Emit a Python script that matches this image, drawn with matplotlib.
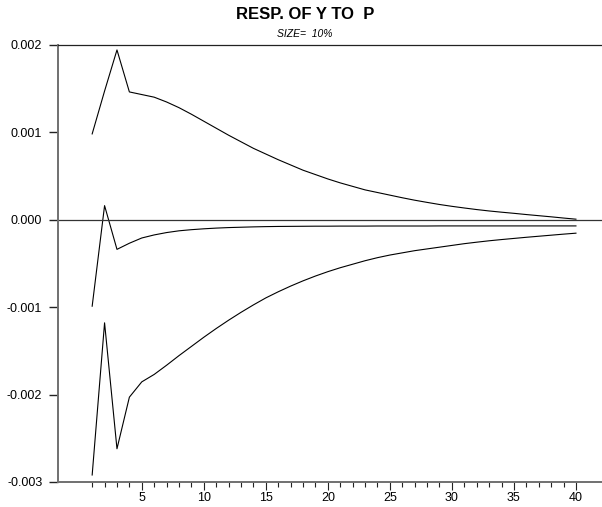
import matplotlib
matplotlib.use("Agg")
import matplotlib.pyplot as plt
from matplotlib.ticker import FixedLocator

plt.rcParams['font.family'] = ['Liberation Sans', 'DejaVu Sans']

steps = list(range(1, 41))
upper = [0.98, 1.47, 1.94, 1.46, 1.43, 1.40, 1.345, 1.28, 1.205, 1.125,
         1.045, 0.965, 0.89, 0.815, 0.75, 0.685, 0.625, 0.565, 0.515, 0.465,
         0.42, 0.38, 0.34, 0.31, 0.28, 0.25, 0.222, 0.197, 0.173, 0.152,
         0.133, 0.115, 0.099, 0.085, 0.072, 0.058, 0.045, 0.032, 0.018, 0.005]
middle = [-0.99, 0.16, -0.34, -0.27, -0.21, -0.175, -0.148, -0.128, -0.115, -0.105,
          -0.097, -0.091, -0.087, -0.083, -0.080, -0.078, -0.077, -0.076, -0.075, -0.075,
          -0.074, -0.074, -0.074, -0.073, -0.073, -0.073, -0.073, -0.073, -0.072, -0.072,
          -0.072, -0.072, -0.072, -0.072, -0.072, -0.072, -0.072, -0.072, -0.072, -0.072]
lower = [-2.92, -1.18, -2.62, -2.03, -1.855, -1.77, -1.665, -1.555, -1.45, -1.345,
         -1.245, -1.15, -1.06, -0.975, -0.895, -0.825, -0.76, -0.70, -0.645, -0.595,
         -0.55, -0.51, -0.47, -0.435, -0.405, -0.38, -0.355, -0.335, -0.315, -0.295,
         -0.275, -0.258, -0.242, -0.228, -0.215, -0.202, -0.19, -0.178, -0.166, -0.155]
scale = 0.001

ytick_vals = [0.002, 0.001, 0.0, -0.001, -0.002, -0.003]
ytick_labels = ['0.002', '0.001', '0.000', '-0.001', '-0.002', '-0.003']
xtick_vals = [5, 10, 15, 20, 25, 30, 35, 40]

title = "RESP. OF Y TO  P"
subtitle = "SIZE=  10%"

fig = plt.figure(figsize=(6.02, 5.07), dpi=100)
ax = fig.add_axes([58.3 / 602, 25 / 507, 1 - 58.3 / 602, (482 - 44.7) / 507])

for series in (upper, middle, lower):
    ax.plot(steps, [v * scale for v in series], color='black', lw=0.8)

ax.axhline(0, color='#333333', lw=0.9)

ax.set_xlim(-1.73, 42.1)
ax.set_ylim(-0.003, 0.002)

ax.set_yticks(ytick_vals)
ax.set_yticklabels(ytick_labels)
ax.xaxis.set_major_locator(FixedLocator(xtick_vals))
ax.xaxis.set_minor_locator(FixedLocator(steps))

ax.spines['right'].set_visible(False)
ax.spines['top'].set_color('#222222')
ax.spines['top'].set_linewidth(0.9)
for s in ('left', 'bottom'):
    ax.spines[s].set_color('#707070')
    ax.spines[s].set_linewidth(1.4)

ax.tick_params(axis='y', which='major', length=6.5, width=1.0, color='#222222',
               labelsize=9, pad=5)
ax.tick_params(axis='x', which='major', length=5.5, width=0.8, color='#222222',
               labelsize=9, pad=1.5)
ax.tick_params(axis='x', which='minor', length=3.5, width=0.8, color='#222222')

fig.text(0.507, 0.972, title, ha='center', va='center', fontsize=12, fontweight='bold')
fig.text(0.507, 0.933, subtitle, ha='center', va='center', fontsize=7.5, style='italic')

fig.savefig('out.png', dpi=100)
